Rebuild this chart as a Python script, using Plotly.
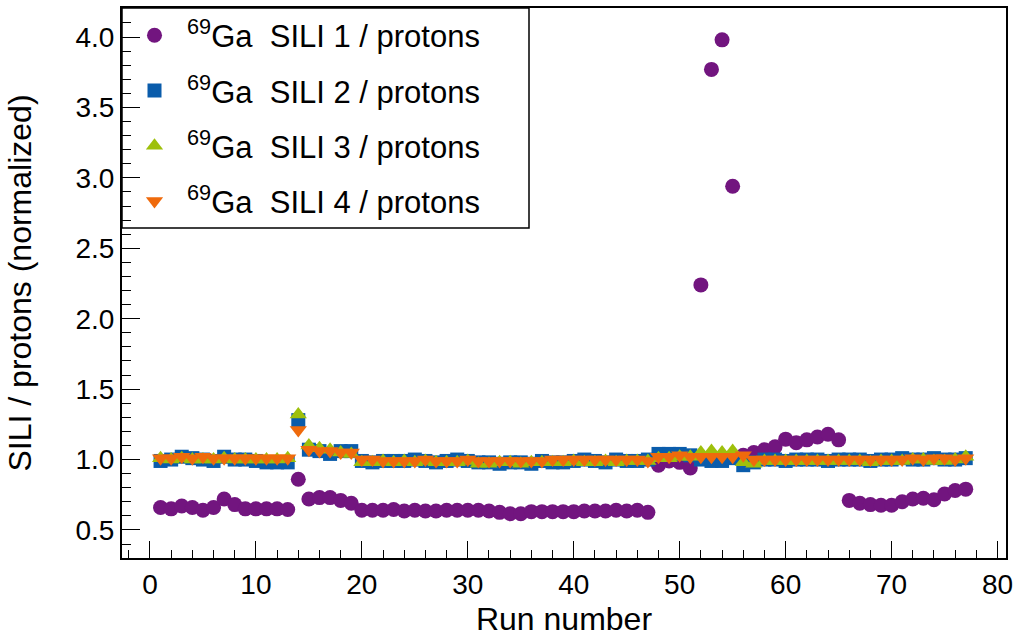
import plotly.graph_objects as go

runs = list(range(1, 78))

sili1 = [0.66, 0.65, 0.67, 0.66, 0.64, 0.66, 0.72, 0.68, 0.65, 0.65, 0.65, 0.65, 0.645,
         0.86,
         0.72, 0.73, 0.73, 0.71, 0.69,
         0.64, 0.64, 0.64, 0.645, 0.635, 0.64, 0.635, 0.635, 0.64, 0.64, 0.64, 0.64, 0.635,
         0.625, 0.615, 0.615, 0.63, 0.63, 0.63, 0.63, 0.63, 0.635, 0.635, 0.635, 0.64, 0.635, 0.64, 0.625,
         0.96, 0.99, 0.98, 0.94,
         2.24, 3.77, 3.98, 2.94,
         1.03, 1.05, 1.07, 1.09, 1.145, 1.12, 1.14, 1.16, 1.18, 1.14,
         0.71, 0.69, 0.68, 0.675, 0.675, 0.70, 0.72, 0.725, 0.715, 0.755, 0.78, 0.79]

sili2 = [0.99, 1.00, 1.02, 1.01, 1.00, 0.99, 1.02, 1.00, 1.00, 0.99, 0.98, 0.98, 0.98,
         1.28,
         1.07, 1.06, 1.04, 1.06, 1.06,
         0.99, 0.98, 0.99, 0.99, 0.99, 1.00, 0.99, 0.98, 0.99, 1.00, 0.99, 0.98, 0.98,
         0.97, 0.98, 0.98, 0.97, 0.99, 0.98, 0.98, 0.99, 1.00, 0.99, 0.98, 1.00, 0.99, 0.99, 1.00,
         1.04, 1.04, 1.04, 1.03,
         1.00, 0.99, 0.99, 1.01,
         0.96, 0.98, 1.00, 1.00, 0.99, 1.00, 1.00, 1.00, 0.99, 1.00,
         1.00, 1.00, 0.99, 1.00, 1.00, 1.01, 1.00, 1.00, 1.01, 1.00, 1.00, 1.01]

sili3 = [1.01, 1.00, 1.01, 1.00, 1.00, 1.00, 1.01, 1.00, 1.00, 1.00, 1.00, 1.00, 1.01,
         1.32,
         1.10, 1.08, 1.07, 1.05, 1.04,
         0.98, 0.98, 0.99, 0.98, 0.99, 0.98, 0.99, 0.98, 0.98, 0.98, 0.99, 0.97, 0.97,
         0.98, 0.98, 0.97, 0.98, 0.98, 0.98, 0.98, 0.99, 0.98, 0.98, 0.99, 0.98, 0.99, 0.99, 0.99,
         1.01, 1.01, 1.02, 1.02,
         1.05, 1.06, 1.05, 1.06,
         0.98, 0.97, 0.99, 0.99, 0.99, 0.99, 0.99, 0.99, 0.99, 0.99,
         0.99, 0.99, 0.98, 0.99, 0.99, 0.99, 1.00, 1.00, 0.99, 0.99, 1.00, 1.02]

sili4 = [1.01, 1.01, 1.02, 1.01, 1.02, 1.01, 1.01, 1.01, 1.01, 1.01, 1.01, 1.01, 1.01,
         1.21,
         1.07, 1.06, 1.06, 1.05, 1.05,
         1.00, 1.00, 0.99, 0.99, 0.99, 0.99, 1.00, 0.99, 0.99, 0.99, 1.00, 0.99, 0.99,
         0.99, 0.99, 0.99, 0.99, 0.99, 1.00, 1.00, 1.00, 1.00, 1.00, 1.00, 1.00, 1.00, 1.00, 0.99,
         1.02, 1.02, 1.03, 1.02,
         1.02, 1.02, 1.02, 1.02,
         1.03, 1.00, 1.00, 1.00, 1.00, 1.00, 1.00, 1.00, 1.00, 1.00,
         1.00, 1.00, 1.00, 1.00, 1.00, 1.00, 1.01, 1.00, 1.01, 1.01, 1.00, 1.01]

labels = ["<sup>69</sup>Ga  SILI 1 / protons",
          "<sup>69</sup>Ga  SILI 2 / protons",
          "<sup>69</sup>Ga  SILI 3 / protons",
          "<sup>69</sup>Ga  SILI 4 / protons"]
colors = ["#72157f", "#0a5cab", "#9ec00b", "#ef6a0c"]
symbols = ["circle", "square", "triangle-up", "triangle-down"]
sizes = [15, 14, 15, 15]
series = [sili1, sili2, sili3, sili4]

fig = go.Figure()
for i in range(4):
    fig.add_trace(go.Scatter(
        x=runs, y=series[i], mode="markers", name=labels[i],
        legendgroup=f"g{i}",
        marker=dict(symbol=symbols[i], color=colors[i], size=sizes[i], line=dict(width=0)),
    ))

# legend frame (ROOT-style TLegend box)
fig.add_shape(type="rect", xref="paper", yref="paper",
              x0=0, x1=(529 - 122) / 884, y0=(558 - 228) / 550, y1=1,
              line=dict(color="black", width=1.5), fillcolor="white", layer="below")

font = "Liberation Sans, Arial, sans-serif"
fig.update_layout(
    width=1016, height=637,
    margin=dict(l=122, r=10, t=8, b=79, autoexpand=False),
    paper_bgcolor="white", plot_bgcolor="white",
    font=dict(family=font, size=26, color="black"),
    showlegend=True,
    legend=dict(x=0, y=0.999, xanchor="left", yanchor="top",
                borderwidth=0, bgcolor="rgba(0,0,0,0)",
                font=dict(family=font, size=31, color="black"),
                itemwidth=55,
                traceorder="grouped", tracegroupgap=12),
    xaxis=dict(range=[-2.64, 80.8], tickmode="array", tickvals=list(range(0, 81, 10)),
               ticks="inside", ticklen=17, tickwidth=1, tickcolor="black",
               minor=dict(dtick=2, ticks="inside", ticklen=8, tickcolor="black"),
               showline=True, linecolor="black", linewidth=2, mirror=True,
               showgrid=False, zeroline=False,
               tickfont=dict(size=28),
               title=dict(text="Run number", font=dict(size=32), standoff=10)),
    yaxis=dict(range=[0.301, 4.206], tickmode="array",
               tickvals=[0.5, 1.0, 1.5, 2.0, 2.5, 3.0, 3.5, 4.0], tickformat=".1f",
               ticks="inside", ticklen=18, tickwidth=1, tickcolor="black",
               minor=dict(dtick=0.1, ticks="inside", ticklen=9, tickcolor="black"),
               showline=True, linecolor="black", linewidth=2, mirror=True,
               showgrid=False, zeroline=False,
               tickfont=dict(size=28),
               title=dict(text="SILI / protons (normalized)", font=dict(size=32), standoff=34)),
)

fig.write_html("out.html")
